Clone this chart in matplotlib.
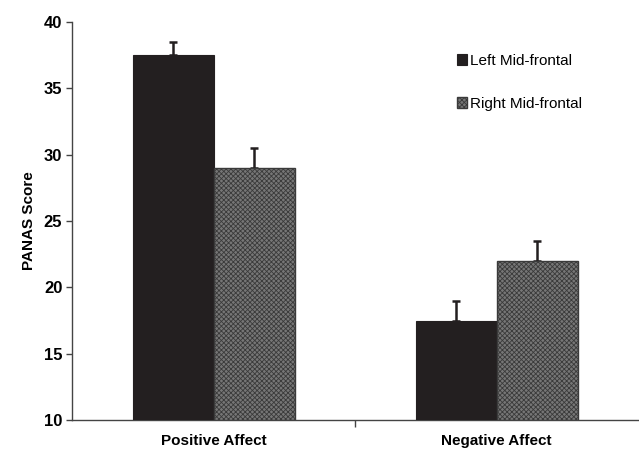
import numpy as np
import matplotlib.pyplot as plt

plt.rcParams['font.family'] = ['Liberation Sans', 'DejaVu Sans']

# PANAS scores by site
categories = ['Positive Affect', 'Negative Affect']
left_mean = [37.5, 17.5]
left_err = [1.0, 1.5]
right_mean = [29.0, 22.0]
right_err = [1.5, 1.5]
series_names = ['Left Mid-frontal', 'Right Mid-frontal']

dark = '#231f20'
plt.rcParams['hatch.color'] = '#b4b4b4'
plt.rcParams['hatch.linewidth'] = 0.6

fig = plt.figure(figsize=(6.39, 4.55), dpi=100)
ax = fig.add_axes([0.1127, 0.0769, 0.886, 0.8747])

x = np.arange(len(categories))
w = 0.286
zero = 10
b1 = ax.bar(x - w/2, np.array(left_mean) - zero, w, bottom=zero, color=dark,
            edgecolor=dark, linewidth=0.8, label=series_names[0], zorder=3)
b2 = ax.bar(x + w/2, np.array(right_mean) - zero, w, bottom=zero, color='#767676',
            edgecolor='#3a3a3a', linewidth=1.0, hatch='xxxxxxx', label=series_names[1],
            zorder=3)

ax.errorbar(x - w/2, left_mean, yerr=[np.zeros(2), left_err], fmt='none',
            ecolor=dark, elinewidth=1.8, capsize=3, capthick=1.8, zorder=2)
ax.errorbar(x + w/2, right_mean, yerr=[np.zeros(2), right_err], fmt='none',
            ecolor=dark, elinewidth=1.8, capsize=3, capthick=1.8, zorder=2)

ax.set_xlim(-0.5, 1.5)
ax.set_ylim(10, 40)
ax.set_yticks(np.arange(10, 41, 5))
ax.set_xticks(x)
ax.set_xticklabels(categories, fontsize=11, fontweight='bold')
ax.tick_params(axis='x', length=0, pad=10)
ax.set_xticks([0.5], minor=True)
ax.tick_params(axis='x', which='minor', length=5, width=1, color='#444444')
ax.tick_params(axis='y', length=4, width=1, color='#444444', labelsize=12, pad=3)
for lab in ax.get_yticklabels():
    lab.set_fontweight('bold')

for side in ['top', 'right']:
    ax.spines[side].set_visible(False)
for side in ['left', 'bottom']:
    ax.spines[side].set_color('#444444')
    ax.spines[side].set_linewidth(1.0)

ax.set_ylabel('PANAS Score', fontsize=11, fontweight='bold')
ax.yaxis.set_label_coords(-0.064, 0.5)

ax.legend(loc='upper left', bbox_to_anchor=(0.655, 0.955), frameon=False,
          handlelength=0.7, handleheight=0.7, handletextpad=0.2,
          labelspacing=1.9, fontsize=11)

fig.savefig('out.png', dpi=100)
